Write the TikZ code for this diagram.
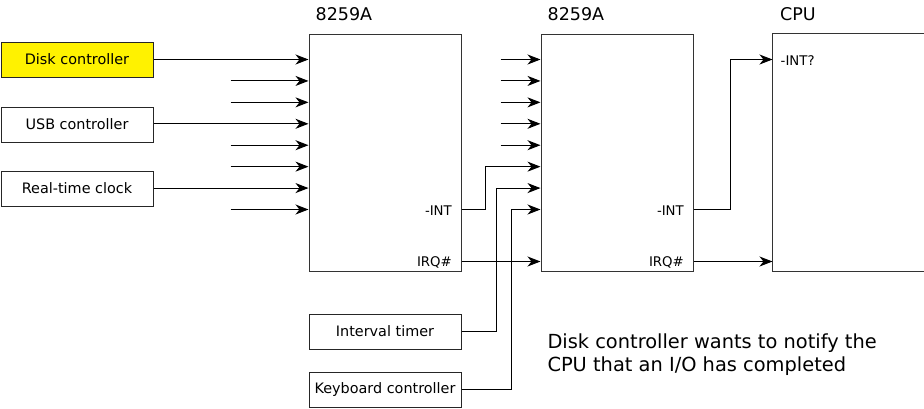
\documentclass[tikz,border=0pt]{standalone}
\usepackage{fontspec}
\setmainfont{DejaVu Sans}
\usetikzlibrary{arrows.meta,calc}
\begin{document}
\begin{tikzpicture}[x=1pt,y=-1pt,
  box/.style={draw=black!85, line width=1pt, minimum width=152pt, minimum height=35pt,
    inner sep=0pt, font=\fontsize{14.4}{16}\selectfont},
  chip/.style={draw=black!80, line width=1pt, minimum width=152pt, minimum height=237pt, inner sep=0pt},
  wire/.style={line width=1.1pt, -{Stealth[length=13pt,width=10pt,inset=4pt]}},
  title/.style={anchor=base west, inner sep=0pt, font=\fontsize{17.5}{20}\selectfont},
  pinlabel/.style={inner sep=0pt, font=\fontsize{13.3}{15}\selectfont},
]
\useasboundingbox (0,0) rectangle (924,408);

% interrupt sources
\node[box, fill=yellow] (disk) at (77,59.5) {Disk controller};
\node[box] (usb) at (77,124.5) {USB controller};
\node[box] (rtc) at (77,188.5) {Real-time clock};
\node[box] (timer) at (385,331.5) {Interval timer};
\node[box] (kbd) at (385,389.5) {Keyboard controller};

% the two interrupt controllers and the CPU
\node[chip] (pic1) at (385,152.5) {};
\node[chip] (pic2) at (617,152.5) {};
\node[chip, draw=none, minimum width=151pt] (cpu) at (848.5,152.5) {};
\draw[draw=black!80, line width=1pt]
  (cpu.north east) -- (cpu.north west) -- (cpu.south west) -- (cpu.south east);

\node[title] (pic1title) at (315.5,20) {8259A};
\node[title] (pic2title) at (547.5,20) {8259A};
\node[title] (cputitle) at (780,20) {CPU};

% pin labels
\node[pinlabel, anchor=base east] (int1) at (452,215) {-INT};
\node[pinlabel, anchor=base east] (irq1) at (452,266) {IRQ\#};
\node[pinlabel, anchor=base east] (int2) at (684,215) {-INT};
\node[pinlabel, anchor=base east] (irq2) at (684,266) {IRQ\#};
\node[pinlabel, anchor=base west] (cpuint) at (780.5,65.7) {-INT?};

% input pins of both controllers
\foreach \k in {1,...,8} {
  \path (pic1.north west) ++(0,{26+(\k-1)*150/7}) coordinate (a-in\k);
  \path (pic2.north west) ++(0,{26+(\k-1)*150/7}) coordinate (b-in\k);
}
\coordinate (a-int) at (pic1.east |- a-in8);
\coordinate (b-int) at (pic2.east |- b-in8);
\path (pic1.south east) ++(0,-10) coordinate (a-irq);
\path (pic2.south east) ++(0,-10) coordinate (b-irq);
\path (cpu.north west) ++(0,26) coordinate (c-int);

% unused inputs
\foreach \k in {2,3,5,6,8} {
  \path (a-in\k) ++(-78,0) coordinate (a-free\k);
  \draw[wire] (a-free\k) -- (a-in\k);
}
\foreach \k in {1,...,5} {
  \path (b-in\k) ++(-40,0) coordinate (b-free\k);
  \draw[wire] (b-free\k) -- (b-in\k);
}

% device lines
\draw[wire] (disk.east |- a-in1) -- (a-in1);
\draw[wire] (usb.east |- a-in4) -- (a-in4);
\draw[wire] (rtc.east |- a-in7) -- (a-in7);
\draw[wire] (timer.east) -- ++(35,0) |- (b-in7);
\draw[wire] (kbd.east) -- ++(50,0) |- (b-in8);

% cascade and CPU lines
\draw[wire] (a-int) -- ++(24,0) |- (b-in6);
\draw[wire] (a-irq) -- (pic2.west |- a-irq);
\draw[wire] (b-int) -- ++(37,0) |- (c-int);
\draw[wire] (b-irq) -- (cpu.west |- b-irq);

\node[anchor=base west, inner sep=0pt, align=left, font=\fontsize{19.4}{22.5}\selectfont]
  (note) at (547.3,371) {Disk controller wants to notify the\\CPU that an I/O has completed};
\end{tikzpicture}
\end{document}
